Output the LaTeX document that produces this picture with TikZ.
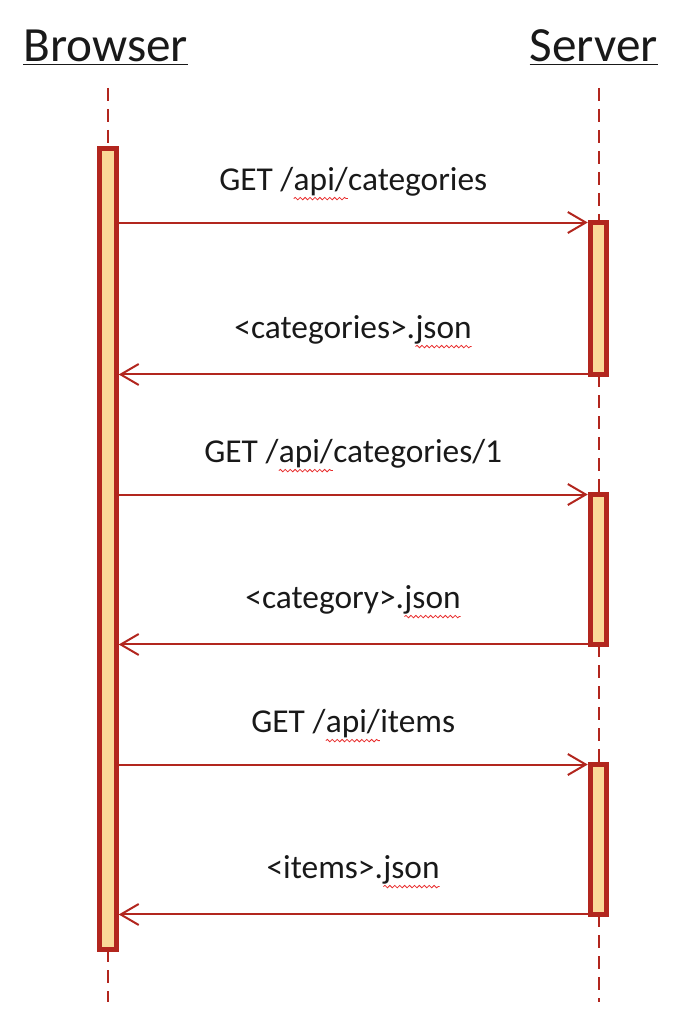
\documentclass[tikz,border=0pt]{standalone}
\usepackage{fontspec}
\setmainfont{Carlito}
\usepackage{xcolor}
\usetikzlibrary{arrows.meta,decorations.pathmorphing}
\definecolor{lifeRed}{RGB}{178,38,30}
\definecolor{actFill}{RGB}{250,216,152}
\definecolor{spellRed}{RGB}{232,44,44}
\newcommand{\spellmark}[1]{\tikz[baseline=(sw.base)]{%
  \node[inner sep=0pt, outer sep=0pt, anchor=base west] (sw) at (0,0) {#1};
  \draw[spellRed, arrows=-, solid, line width=0.45pt, decorate, decoration={snake, amplitude=0.7pt, segment length=2.8pt}]
    ([yshift=-4.6pt]sw.base west) -- ([yshift=-4.6pt]sw.base east);}}

\tikzset{
  actbox/.style={draw=lifeRed, fill=actFill, line width=0.1cm, minimum width=0.33cm,
    inner sep=0pt, outer xsep=0.05cm, outer ysep=0pt},
  lifeline/.style={draw=lifeRed, line width=0.04cm, dash pattern=on 0.26cm off 0.16cm},
  msg/.style={draw=lifeRed, line width=0.04cm, -{Straight Barb[length=0.36cm,width=0.42cm]}},
  reqlabel/.style={anchor=base, yshift=0.64cm, font=\fontsize{19}{23}\selectfont, text=black!90},
  replabel/.style={reqlabel, yshift=0.08cm},
  actor/.style={font=\fontsize{28}{34}\selectfont, inner sep=0pt, text=black!90}
}

\begin{document}
\begin{tikzpicture}[x=0.02cm, y=-0.02cm]
    \useasboundingbox (0,0) rectangle (694,1026);

    % draw actors
    \node[actor, anchor=base west] (browser) at (23,62) {\underline{Browser}};
    \node[actor, anchor=base east] (server) at (658,62) {\underline{Server}};

    % draw activation boxes
    \node[actbox, minimum height=16.02cm] (bact) at (108,549) {};
    \node[actbox, minimum height=3.04cm] (s1) at (598.5,298.5) {};
    \node[actbox, minimum height=3.00cm] (s2) at (598.5,569.5) {};
    \node[actbox, minimum height=3.00cm] (s3) at (598.5,839.5) {};

    % draw lifelines
    \coordinate (btop) at (108,88);
    \coordinate (bend) at (108,1002);
    \coordinate (stop) at (598.5,88);
    \coordinate (send) at (598.5,1002);
    \draw[lifeline] (btop) -- (bact.north);
    \draw[lifeline] (bact.south) -- (bend);
    \draw[lifeline] (stop) -- (s1.north);
    \draw[lifeline] (s1.south) -- (s2.north);
    \draw[lifeline] (s2.south) -- (s3.north);
    \draw[lifeline] (s3.south) -- (send);

    % draw messages
    \draw[msg] (bact.east |- s1.north west) -- node[reqlabel] {GET /\spellmark{api/}categories} (s1.north west);
    \draw[msg] (s1.south west) -- node[replabel] {<categories>.\spellmark{json}} (bact.east |- s1.south west);

    \draw[msg] (bact.east |- s2.north west) -- node[reqlabel] {GET /\spellmark{api/}categories/1} (s2.north west);
    \draw[msg] (s2.south west) -- node[replabel] {<category>.\spellmark{json}} (bact.east |- s2.south west);

    \draw[msg] (bact.east |- s3.north west) -- node[reqlabel] {GET /\spellmark{api/}items} (s3.north west);
    \draw[msg] (s3.south west) -- node[replabel] {<items>.\spellmark{json}} (bact.east |- s3.south west);
\end{tikzpicture}
\end{document}
